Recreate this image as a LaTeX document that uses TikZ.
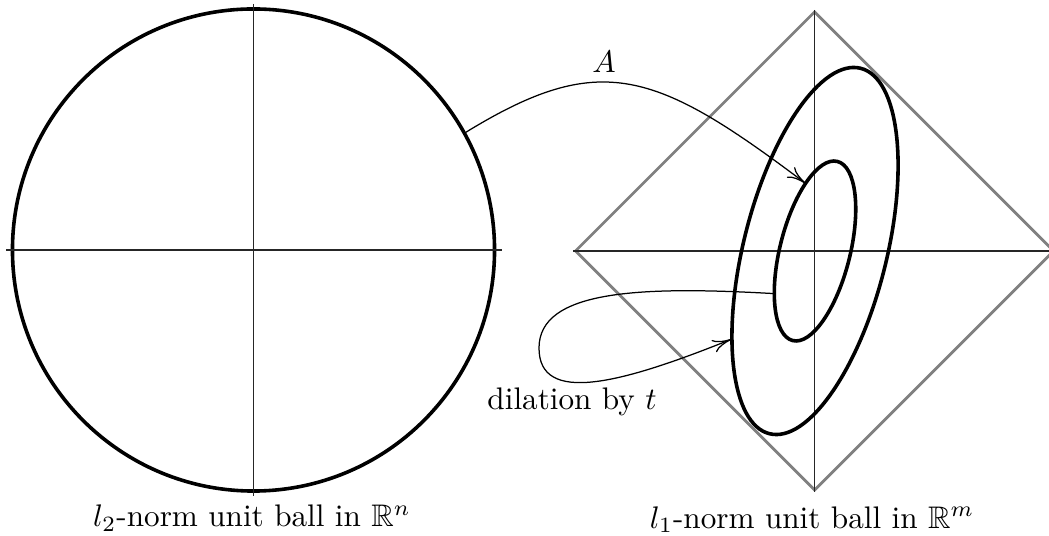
\documentclass[tikz,border=0pt]{standalone}
\usepackage{amssymb}
\usetikzlibrary{arrows.meta}
\begin{document}
\begin{tikzpicture}[x=0.3205pt,y=0.3205pt,
  axis/.style={line width=0.35pt, draw=black!85},
  ballline/.style={line width=1.15pt},
  lonestyle/.style={draw=gray, line width=0.9pt},
  map/.style={-{To[length=6pt,width=4.2pt]}, line width=0.4pt}]
\useasboundingbox (0,0) rectangle (1049,-536);
% l2 ball
\node[circle, draw, ballline, inner sep=0pt, minimum size=154.5pt] (ball) at (253.5,-250) {};
\draw[axis] (6,-250) -- (502,-250);
\draw[axis] (253.5,-4) -- (253.5,-496);
% l1 ball
\draw[lonestyle] (814.5,-12) -- (1053.5,-251) -- (814.5,-490) -- (575.5,-251) -- cycle;
\draw[axis] (573,-251) -- (1056,-251);
\draw[axis] (814.5,-10) -- (814.5,-492);
% image ellipses
\begin{scope}[shift={(815,-251)}, rotate=76]
  \draw[ballline] (0,0) ellipse (92.3 and 35.1);
  \draw[ballline] (0,0) ellipse (188.3 and 71.6);
  \coordinate (inA) at (63.3,25.5);
  \coordinate (inT) at (-51.2,29.2);
  \coordinate (outT) at (-106,60);
\end{scope}
\coordinate (loopL) at (539,-348);
% maps
\draw[map] (ball.29.4) .. controls (600,-50) and (655,-70) .. (inA);
\draw[map] (inT) .. controls (640,-286) and (539,-290) .. (loopL)
  .. controls (539,-405) and (620,-384) .. (outT);
% labels
\node[anchor=base] (lblA) at (604,-73) {$A$};
\node[anchor=base] (lblT) at (572,-410) {dilation by $t$};
\node[anchor=base] (lbltwo) at (252,-527) {$l_2$-norm unit ball in $\mathbb{R}^n$};
\node[anchor=base] (lblone) at (812,-528) {$l_1$-norm unit ball in $\mathbb{R}^m$};
\end{tikzpicture}
\end{document}
